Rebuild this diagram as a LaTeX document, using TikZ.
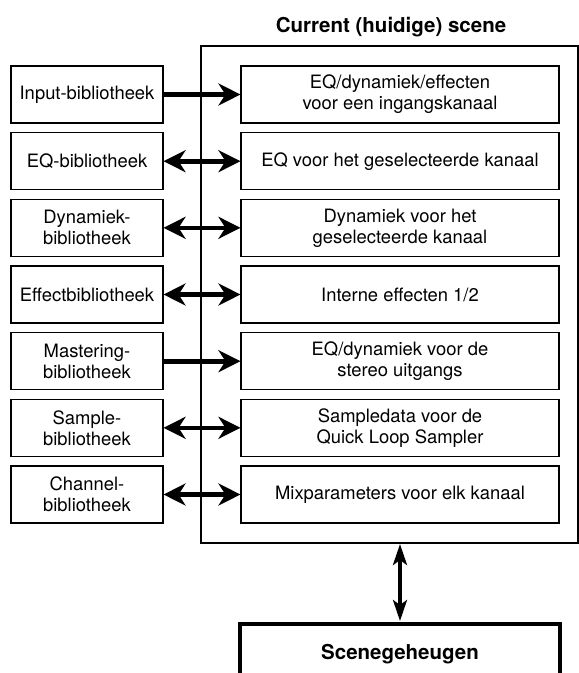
\documentclass[tikz,border=0pt]{standalone}
\usepackage{fontspec}
\setmainfont{TeX Gyre Heros}
\usetikzlibrary{arrows.meta}

\begin{document}
\begin{tikzpicture}[x=1pt, y=-1pt, >={Stealth[length=22pt, width=22pt, inset=7pt]},
    libbox/.style={draw, line width=1.1pt, minimum width=152pt, minimum height=57pt,
        inner sep=0pt, align=center, font=\fontsize{18.4}{21}\selectfont},
    databox/.style={libbox, minimum width=318pt},
    kop/.style={font=\bfseries\fontsize{20.5}{24}\selectfont},
    link/.style={line width=4.6pt}]
    % Kader van de tekening
    \useasboundingbox (0,0) rectangle (579,673);
    \clip (0,0) rectangle (579,673);

    % Huidige scene
    \node[draw, line width=2pt, minimum width=377pt, minimum height=497pt, inner sep=0pt] (scene) at (389.5,294.5) {};
    \node[kop, anchor=base] (titel) at (391,32) {Current (huidige) scene};

    % Bibliotheken links
    \node[libbox] (inp) at (87,94.5) {Input-bibliotheek};
    \node[libbox] (eq) at (87,161.2) {EQ-bibliotheek};
    \node[libbox] (dyn) at (87,227.8) {Dynamiek-\\bibliotheek};
    \node[libbox] (eff) at (87,294.5) {Effectbibliotheek};
    \node[libbox] (mas) at (87,361.2) {Mastering-\\bibliotheek};
    \node[libbox] (smp) at (87,427.8) {Sample-\\bibliotheek};
    \node[libbox] (chn) at (87,494.5) {Channel-\\bibliotheek};

    % Gegevens in de scene
    \node[databox] (inpdata) at (400,94.5) {EQ/dynamiek/effecten\\voor een ingangskanaal};
    \node[databox] (eqdata) at (400,161.2) {EQ voor het geselecteerde kanaal};
    \node[databox] (dyndata) at (400,227.8) {Dynamiek voor het\\geselecteerde kanaal};
    \node[databox] (effdata) at (400,294.5) {Interne effecten 1/2};
    \node[databox] (masdata) at (400,361.2) {EQ/dynamiek voor de\\stereo uitgangs};
    \node[databox] (smpdata) at (400,427.8) {Sampledata voor de\\Quick Loop Sampler};
    \node[databox] (chndata) at (400,494.5) {Mixparameters voor elk kanaal};

    % Pijlen
    \draw[link, ->] (inp.east) -- (inpdata.west);
    \draw[link, ->] (mas.east) -- (masdata.west);
    \foreach \a/\b in {eq/eqdata, dyn/dyndata, eff/effdata, smp/smpdata, chn/chndata} {
        \draw[link, <->] (\a.east) -- (\b.west);
    }

    % Scenegeheugen
    \node[draw, kop, line width=4pt, outer sep=0pt, minimum width=320pt, text height=15pt, text depth=40pt,
        inner ysep=20pt, anchor=north] (mem) at (400,624) {Scenegeheugen};
    \draw[line width=3.6pt, {Stealth[length=21pt, width=14pt, inset=5pt]}-{Stealth[length=21pt, width=14pt, inset=5pt]},
        shorten >=3pt] (mem.north |- scene.south) -- (mem.north);
\end{tikzpicture}
\end{document}
